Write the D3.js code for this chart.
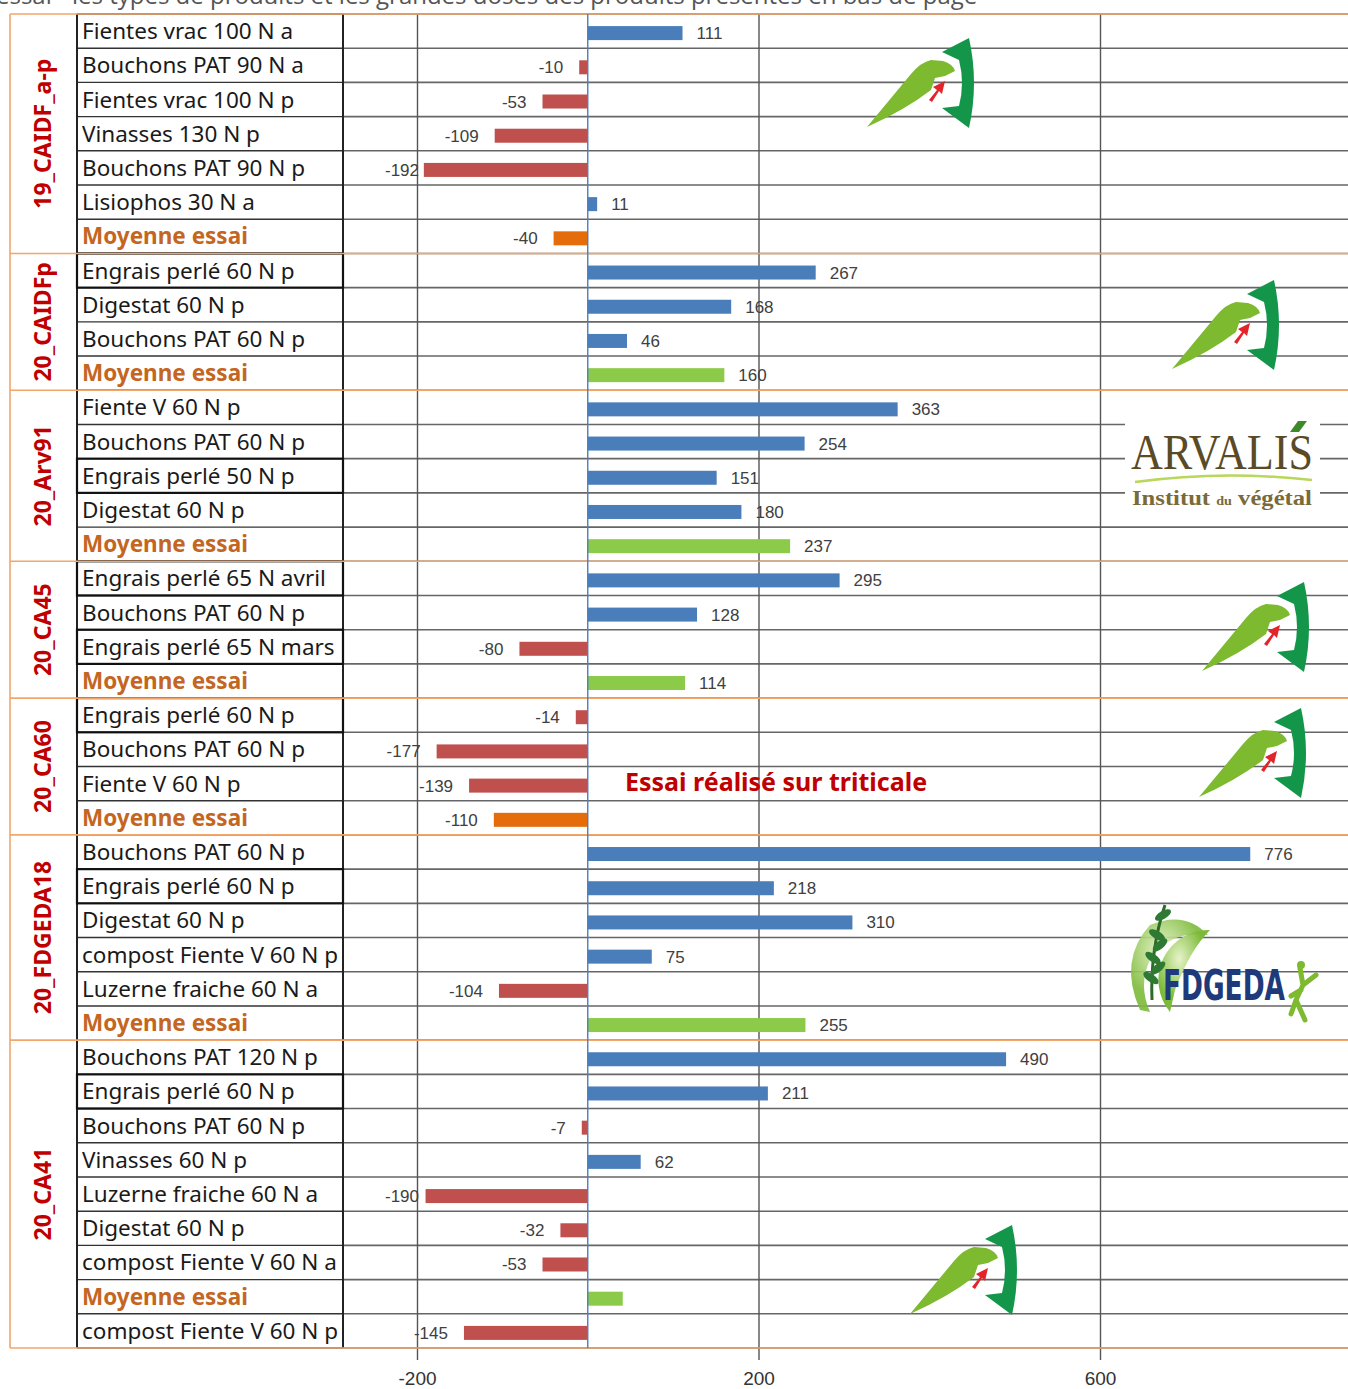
<!DOCTYPE html>
<html>
<head>
<meta charset="utf-8">
<script src="https://cdn.jsdelivr.net/npm/d3@7"></script>
<style>
  body { margin: 0; background: #fff; }
</style>
</head>
<body>
<div id="container"></div>
<script>
/* DATA */
const groups = ["19_CAIDF_a-p", "20_CAIDFp", "20_Arv91", "20_CA45", "20_CA60", "20_FDGEDA18", "20_CA41"];
const groupSizes = [7, 4, 5, 4, 4, 6, 9];

const labels = [
  "Fientes vrac 100 N a", "Bouchons PAT 90 N a", "Fientes vrac 100 N p", "Vinasses 130 N p", "Bouchons PAT 90 N p", "Lisiophos 30 N a", "Moyenne essai",
  "Engrais perlé 60 N p", "Digestat 60 N p", "Bouchons PAT 60 N p", "Moyenne essai",
  "Fiente V 60 N p", "Bouchons PAT 60 N p", "Engrais perlé 50 N p", "Digestat 60 N p", "Moyenne essai",
  "Engrais perlé 65 N avril", "Bouchons PAT 60 N p", "Engrais perlé 65 N mars", "Moyenne essai",
  "Engrais perlé 60 N p", "Bouchons PAT 60 N p", "Fiente V 60 N p", "Moyenne essai",
  "Bouchons PAT 60 N p", "Engrais perlé 60 N p", "Digestat 60 N p", "compost Fiente V 60 N p", "Luzerne fraiche 60 N a", "Moyenne essai",
  "Bouchons PAT 120 N p", "Engrais perlé 60 N p", "Bouchons PAT 60 N p", "Vinasses 60 N p", "Luzerne fraiche 60 N a", "Digestat 60 N p", "compost Fiente V 60 N a", "Moyenne essai", "compost Fiente V 60 N p"
];

const values = [
  111, -10, -53, -109, -192, 11, -40,
  267, 168, 46, 160,
  363, 254, 151, 180, 237,
  295, 128, -80, 114,
  -14, -177, -139, -110,
  776, 218, 310, 75, -104, 255,
  490, 211, -7, 62, -190, -32, -53, 41, -145
];

// shown data labels (the last trial mean has none in the source)
const valueLabels = [
  "111", "-10", "-53", "-109", "-192", "11", "-40",
  "267", "168", "46", "160",
  "363", "254", "151", "180", "237",
  "295", "128", "-80", "114",
  "-14", "-177", "-139", "-110",
  "776", "218", "310", "75", "-104", "255",
  "490", "211", "-7", "62", "-190", "-32", "-53", "", "-145"
];

const tickValues = [-200, 200, 600];
const note = "Essai réalisé sur triticale";

/* CONSTANTS */
const width = 1348, height = 1389;
const plotTop = 14, plotBottom = 1348;
const groupX = 10, labelX0 = 77, labelX1 = 343;
const blue = "#4A7EBB", red = "#C0504D", orange = "#E46C0A", green = "#8CCB4A";
const meanText = "#C4661F";

const rows = labels.map((l, i) => ({
  i, label: l, value: values[i], text: valueLabels[i],
  mean: l === "Moyenne essai"
}));

const svg = d3.select("#container").append("svg")
  .attr("width", width).attr("height", height)
  .style("font-family", "'Noto Sans', sans-serif");

svg.append("rect").attr("width", width).attr("height", height).attr("fill", "#fff");

/* SCALES */
const yScale = d3.scaleBand().domain(d3.range(rows.length)).range([plotTop, plotBottom]);
const xScale = d3.scaleLinear().domain([-200, 600]).range([417, 1100]);
const rowH = yScale.bandwidth();
const rowY = d => d === rows.length ? plotBottom : yScale(d);

// cut text on top of page (only its lower part is visible in the source)
svg.append("text").attr("x", -4).attr("y", 4)
  .attr("font-size", 24).attr("fill", "#555")
  .style("font-family", "'Open Sans', sans-serif")
  .text("essai - les types de produits et les grandes doses des produits présentés en bas de page");

/* GRID */
// horizontal row lines
svg.append("g").selectAll("line")
  .data(d3.range(rows.length + 1))
  .join("line")
  .attr("x1", labelX1).attr("x2", width)
  .attr("y1", rowY).attr("y2", rowY)
  .attr("stroke", "#666").attr("stroke-width", 1.6);

svg.append("g").selectAll("line")
  .data(d3.range(rows.length + 1))
  .join("line")
  .attr("x1", labelX0).attr("x2", labelX1)
  .attr("y1", rowY).attr("y2", rowY)
  .attr("stroke", "#333").attr("stroke-width", 1.4);

// vertical gridlines + axis
const xAxis = d3.axisBottom(xScale).tickValues(tickValues)
  .tickFormat(d => String(d))
  .tickSize(-(plotBottom - plotTop) - 12).tickPadding(12);
const axisG = svg.append("g").attr("transform", `translate(0,${plotBottom + 12})`).call(xAxis);
axisG.select(".domain").remove();
axisG.selectAll(".tick line").attr("stroke", "#555").attr("stroke-width", 1.4);
axisG.selectAll(".tick text")
  .attr("font-size", 19).attr("fill", "#333")
  .style("font-family", "'Liberation Sans', Arial, sans-serif");

// table verticals
svg.append("line").attr("x1", labelX0).attr("x2", labelX0).attr("y1", plotTop).attr("y2", plotBottom)
  .attr("stroke", "#222").attr("stroke-width", 2);
svg.append("line").attr("x1", labelX1).attr("x2", labelX1).attr("y1", plotTop).attr("y2", plotBottom)
  .attr("stroke", "#222").attr("stroke-width", 2);

// boxed "Engrais perlé" cells
svg.append("g").selectAll("rect")
  .data(rows.filter(d => d.label.startsWith("Engrais perlé")))
  .join("rect")
  .attr("x", labelX0).attr("y", d => yScale(d.i))
  .attr("width", labelX1 - labelX0).attr("height", rowH)
  .attr("fill", "none").attr("stroke", "#111").attr("stroke-width", 2.2);

// group separators (orange)
const groupStarts = groupSizes.map((s, k) => d3.sum(groupSizes.slice(0, k)));
const groupData = groups.map((g, k) => ({ name: g, start: groupStarts[k], size: groupSizes[k] }));

svg.append("g").selectAll("line")
  .data(groupStarts.concat([rows.length]))
  .join("line")
  .attr("x1", groupX).attr("x2", width)
  .attr("y1", rowY).attr("y2", rowY)
  .attr("stroke", "#F2A66A").attr("stroke-width", 1.6);
svg.append("line").attr("x1", groupX).attr("x2", groupX).attr("y1", plotTop).attr("y2", plotBottom)
  .attr("stroke", "#F2A66A").attr("stroke-width", 1.6);

/* LOGOS */
function caLogo(x, y) {
  const g = svg.append("g").attr("transform", `translate(${x},${y})`);
  g.append("path")
    .attr("d", "M2,89 L46,36 Q56,24 66,22 L78,23 Q88,26 90,33 L80,38 L70,40 L66,52 Q40,72 2,89 Z")
    .attr("fill", "#7DBA2F");
  g.append("path")
    .attr("d", "M77,14 L104,0 Q114,45 104,90 L77,70 L94,68 Q100,45 94,22 Z")
    .attr("fill", "#13964A");
  g.append("path")
    .attr("d", "M64,62 L72,52 L68,49 L80,43 L77,56 L74,53 L67,64 Z")
    .attr("fill", "#E3242B");
}
[[865, 38], [1170, 280], [1200, 582], [1197, 708], [908, 1225]].forEach(p => caLogo(p[0], p[1]));

// ARVALIS
const arv = svg.append("g");
arv.append("rect").attr("x", 1125).attr("y", 418).attr("width", 195).attr("height", 98).attr("fill", "#fff");
arv.append("text").attr("x", 1222).attr("y", 469).attr("text-anchor", "middle")
  .attr("font-size", 50).attr("fill", "#5B4A26")
  .attr("textLength", 182).attr("lengthAdjust", "spacingAndGlyphs")
  .style("font-family", "'Liberation Serif', serif").text("ARVALIS");
arv.append("path").attr("d", "M1290,432 L1298,421 L1307,421 L1299,432 Z").attr("fill", "#3E8A2A");
arv.append("path").attr("d", "M1135,482 Q1222,470 1312,480").attr("fill", "none")
  .attr("stroke", "#B9D75A").attr("stroke-width", 2.5);
const inst = arv.append("text").attr("x", 1222).attr("y", 505).attr("text-anchor", "middle")
  .attr("font-size", 21).attr("font-weight", "bold").attr("fill", "#7A6A3A")
  .attr("textLength", 180).attr("lengthAdjust", "spacingAndGlyphs")
  .style("font-family", "'Liberation Serif', serif");
inst.append("tspan").text("Institut ");
inst.append("tspan").attr("font-size", 12).text("du");
inst.append("tspan").text(" végétal");

// FDGEDA
const fd = svg.append("g");
const grad = svg.append("defs").append("radialGradient").attr("id", "fdg").attr("cx", "40%").attr("cy", "35%");
grad.append("stop").attr("offset", "0%").attr("stop-color", "#E6F4C8");
grad.append("stop").attr("offset", "100%").attr("stop-color", "#7DBA3A");
fd.append("path").attr("d", "M1170,1012 A50,50 0 0 1 1210,930 Q1190,950 1175,990 Z").attr("fill", "url(#fdg)");
fd.append("path").attr("d", "M1140,1010 Q1118,960 1150,925 Q1185,910 1208,935 Q1170,930 1150,960 Q1138,985 1150,1012 Z")
  .attr("fill", "url(#fdg)").attr("opacity", 0.9);
fd.append("path").attr("d", "M1165,905 Q1150,950 1152,1000").attr("fill", "none").attr("stroke", "#2E6B2A").attr("stroke-width", 3);
[[1163, 915, -30], [1157, 935, 30], [1160, 945, -40], [1153, 958, 35], [1158, 968, -40], [1151, 978, 35]].forEach(l => {
  fd.append("ellipse").attr("cx", l[0]).attr("cy", l[1]).attr("rx", 9).attr("ry", 4)
    .attr("transform", `rotate(${l[2]},${l[0]},${l[1]})`).attr("fill", "#2F7A33");
});
fd.append("text").attr("x", 1163).attr("y", 1000)
  .attr("font-size", 42).attr("font-weight", "bold").attr("fill", "#1F3A7A")
  .attr("textLength", 122).attr("lengthAdjust", "spacingAndGlyphs")
  .style("font-family", "'DejaVu Sans', sans-serif").text("FDGEDA");
fd.append("path")
  .attr("d", "M1300,968 L1303,985 L1296,1000 L1305,1020 M1303,985 L1316,975 M1301,990 L1291,996 M1296,1000 L1291,1014")
  .attr("fill", "none").attr("stroke", "#7DBA2F").attr("stroke-width", 5).attr("stroke-linecap", "round");
fd.append("circle").attr("cx", 1301).attr("cy", 965).attr("r", 4).attr("fill", "#7DBA2F");

/* BARS */
const barH = 14;
const barColor = d => d.mean ? (d.value < 0 ? orange : green) : (d.value < 0 ? red : blue);

svg.append("g").selectAll("rect")
  .data(rows)
  .join("rect")
  .attr("x", d => xScale(Math.min(0, d.value)))
  .attr("width", d => Math.abs(xScale(d.value) - xScale(0)))
  .attr("y", d => yScale(d.i) + (rowH - barH) / 2 + 2)
  .attr("height", barH)
  .attr("fill", barColor);

// zero line
svg.append("line").attr("x1", xScale(0)).attr("x2", xScale(0)).attr("y1", plotTop).attr("y2", plotBottom)
  .attr("stroke", "#4A7EBB").attr("stroke-width", 1.4);

// value labels
const vl = svg.append("g").selectAll("text")
  .data(rows.filter(d => d.text !== ""))
  .join("text")
  .attr("y", d => yScale(d.i) + rowH / 2 + 8)
  .attr("font-size", 17).attr("fill", "#404040")
  .style("font-family", "'Liberation Sans', Arial, sans-serif")
  .attr("text-anchor", d => d.value < 0 ? "end" : "start")
  .text(d => d.text);
vl.each(function(d) {
  const w = this.getComputedTextLength();
  const x = d.value < 0 ? Math.max(xScale(d.value) - 16, 385 + w) : xScale(d.value) + 14;
  d3.select(this).attr("x", x);
});

/* TABLE TEXT */
svg.append("g").selectAll("text")
  .data(rows)
  .join("text")
  .attr("x", 82)
  .attr("y", d => yScale(d.i) + rowH / 2 + 8)
  .attr("font-size", 22.5)
  .attr("font-weight", d => d.mean ? "bold" : "normal")
  .attr("fill", d => d.mean ? meanText : "#1a1a1a")
  .text(d => d.label);

svg.append("g").selectAll("text")
  .data(groupData)
  .join("text")
  .attr("transform", d => `translate(51,${yScale(d.start) + d.size * rowH / 2}) rotate(-90)`)
  .attr("text-anchor", "middle")
  .attr("font-size", 23).attr("font-weight", "bold").attr("fill", "#C00000")
  .text(d => d.name);

// note
svg.append("text").attr("x", 625).attr("y", 791)
  .attr("font-size", 25).attr("font-weight", "bold").attr("fill", "#C00000")
  .text(note);
</script>
</body>
</html>
